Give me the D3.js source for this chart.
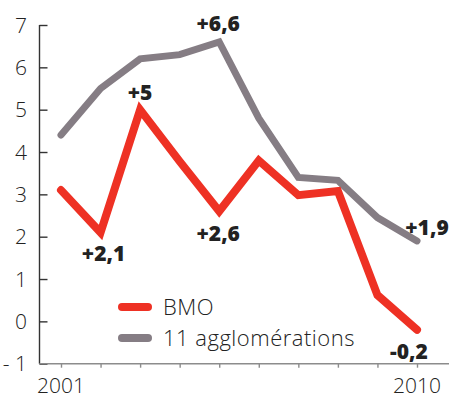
<!DOCTYPE html>
<html>
<head>
<meta charset="utf-8">
<script src="https://cdn.jsdelivr.net/npm/d3@7"></script>
<style>
  html, body { margin: 0; padding: 0; background: #fff; }
  svg { display: block; }
  text { font-family: "Open Sans", Lato, sans-serif; }
</style>
</head>
<body>
<svg id="chart" width="449" height="394"></svg>
<script>
// Annual change, 2001–2010
const years = [2001, 2002, 2003, 2004, 2005, 2006, 2007, 2008, 2009, 2010];
const bmo = [3.1, 2.1, 5, 3.78, 2.6, 3.8, 2.98, 3.08, 0.62, -0.2];
const agglo = [4.4, 5.5, 6.2, 6.3, 6.6, 4.8, 3.4, 3.33, 2.45, 1.9];
const yTicks = [-1, 0, 1, 2, 3, 4, 5, 6, 7];
const xTickLabels = [2001, 2010];
const seriesNames = ["BMO", "11 agglomérations"];

// Value callouts: series, year index, text
const callouts = [
  { series: "bmo", i: 1, text: "+2,1", dx: 3, dy: 29 },
  { series: "bmo", i: 2, text: "+5", dx: 0, dy: -10 },
  { series: "bmo", i: 4, text: "+2,6", dx: -1, dy: 30 },
  { series: "bmo", i: 9, text: "-0,2", dx: -8, dy: 29 },
  { series: "agglo", i: 4, text: "+6,6", dx: -1, dy: -11 },
  { series: "agglo", i: 9, text: "+1,9", dx: 10, dy: -6 }
];

const RED = "#ee3124";
const GREY = "#857d84";

const svg = d3.select("#chart");

const x = d3.scaleLinear().domain([2001, 2010]).range([61, 417]);
const y = d3.scaleLinear().domain([-1, 7]).range([363.7, 25]);

// Y axis: ticks pointing into the plot
const yAxis = d3.axisRight(y).tickValues(yTicks).tickSize(8).tickFormat("");
const gy = svg.append("g").attr("transform", "translate(39.5,0)").call(yAxis);
gy.select(".domain").attr("stroke", "#333").attr("stroke-width", 1.4)
  .attr("d", `M0,${y(7)}V${y(-1)}`);
gy.selectAll(".tick line").attr("stroke", "#333").attr("stroke-width", 1.4);

svg.append("g").selectAll("text")
  .data(yTicks)
  .join("text")
  .attr("x", 27)
  .attr("y", d => y(d))
  .attr("dy", "0.36em")
  .attr("text-anchor", "end")
  .attr("font-size", 21)
  .attr("font-weight", 300)
  .attr("fill", "#222")
  .text(d => d < 0 ? "- " + Math.abs(d) : d);

// X axis: grey baseline with small ticks below
const xAxis = d3.axisBottom(x).tickValues(years).tickSize(4).tickFormat("");
const gx = svg.append("g").attr("transform", `translate(0,${y(-1)})`).call(xAxis);
gx.select(".domain").attr("stroke", "#8c8c8c").attr("stroke-width", 1.4)
  .attr("d", "M39.5,0H449");
gx.selectAll(".tick line").attr("stroke", "#8c8c8c").attr("stroke-width", 1.4);

svg.append("g").selectAll("text")
  .data(xTickLabels)
  .join("text")
  .attr("x", d => x(d))
  .attr("y", 393)
  .attr("text-anchor", "middle")
  .attr("font-size", 21)
  .attr("font-weight", 300)
  .attr("fill", "#222")
  .text(d => d);

// Lines
const line = d3.line().x((d, i) => x(years[i])).y(d => y(d));

svg.append("path")
  .datum(agglo)
  .attr("d", line)
  .attr("fill", "none")
  .attr("stroke", GREY)
  .attr("stroke-width", 7)
  .attr("stroke-linecap", "round")
  .attr("stroke-linejoin", "miter");

svg.append("path")
  .datum(bmo)
  .attr("d", line)
  .attr("fill", "none")
  .attr("stroke", RED)
  .attr("stroke-width", 8)
  .attr("stroke-linecap", "round")
  .attr("stroke-linejoin", "miter");

// Value callouts
const seriesData = { bmo, agglo };
svg.append("g").selectAll("text")
  .data(callouts)
  .join("text")
  .attr("x", d => x(years[d.i]) + d.dx)
  .attr("y", d => y(seriesData[d.series][d.i]) + d.dy)
  .attr("text-anchor", "middle")
  .attr("font-size", 21)
  .attr("font-weight", 800)
  .attr("fill", "#222")
  .text(d => d.text);

// Legend
const legend = svg.append("g");
const legendColors = [RED, GREY];
const legendY = [307, 338];
seriesNames.forEach((name, k) => {
  legend.append("line")
    .attr("x1", 122).attr("x2", 148)
    .attr("y1", legendY[k]).attr("y2", legendY[k])
    .attr("stroke", legendColors[k])
    .attr("stroke-width", 8)
    .attr("stroke-linecap", "round");
  legend.append("text")
    .attr("x", 163)
    .attr("y", legendY[k])
    .attr("dy", "0.36em")
    .attr("font-size", 22)
    .attr("font-weight", 300)
    .attr("letter-spacing", 0.5)
    .attr("fill", "#222")
    .text(name);
});
</script>
</body>
</html>
